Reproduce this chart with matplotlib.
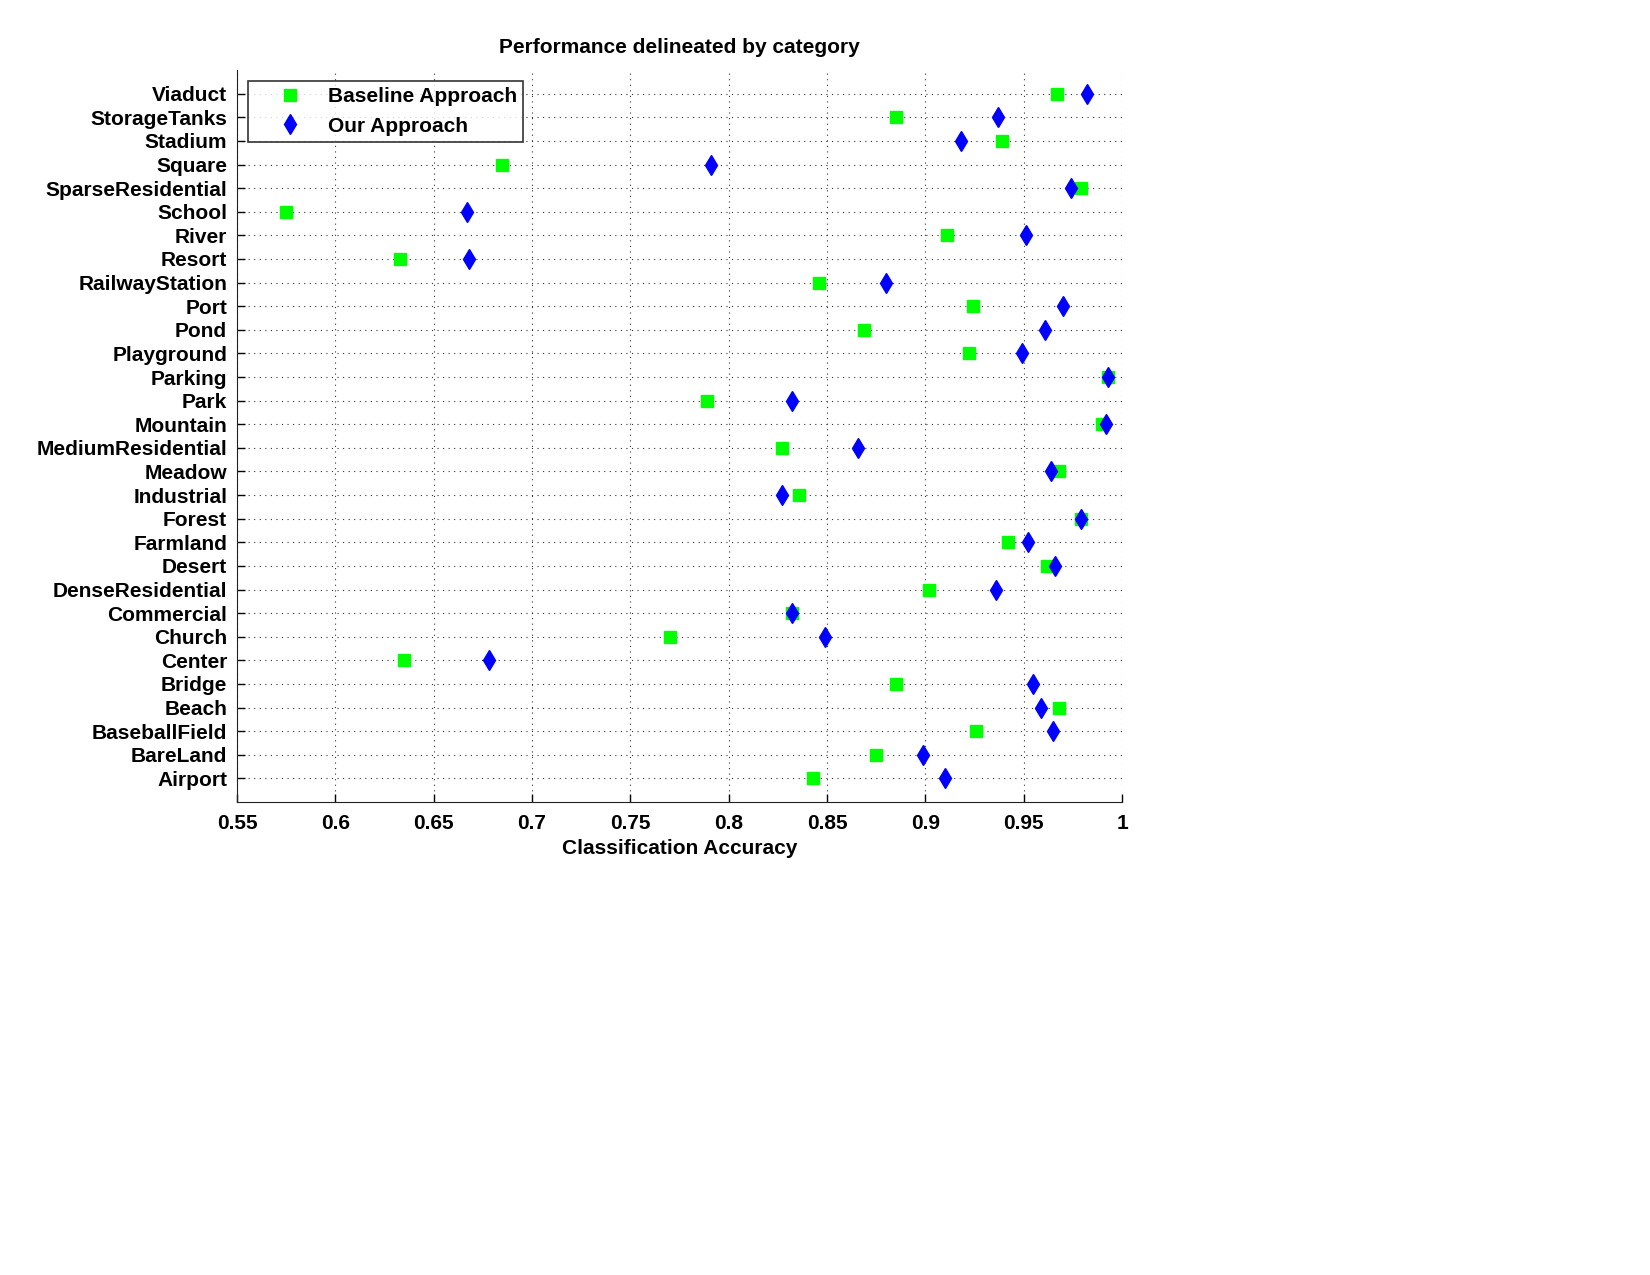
import matplotlib.pyplot as plt

plt.rcParams['font.family'] = ['Liberation Sans', 'DejaVu Sans']
plt.rcParams['font.weight'] = 'bold'

categories = ['Airport', 'BareLand', 'BaseballField', 'Beach', 'Bridge', 'Center',
              'Church', 'Commercial', 'DenseResidential', 'Desert', 'Farmland',
              'Forest', 'Industrial', 'Meadow', 'MediumResidential', 'Mountain',
              'Park', 'Parking', 'Playground', 'Pond', 'Port', 'RailwayStation',
              'Resort', 'River', 'School', 'SparseResidential', 'Square',
              'Stadium', 'StorageTanks', 'Viaduct']

baseline = [0.843, 0.875, 0.926, 0.968, 0.885, 0.635,
            0.770, 0.832, 0.902, 0.962, 0.942,
            0.979, 0.836, 0.968, 0.827, 0.990,
            0.789, 0.993, 0.922, 0.869, 0.924, 0.846,
            0.633, 0.911, 0.575, 0.979, 0.685,
            0.939, 0.885, 0.967]

ours = [0.910, 0.899, 0.965, 0.959, 0.955, 0.678,
        0.849, 0.832, 0.936, 0.966, 0.952,
        0.979, 0.827, 0.964, 0.866, 0.992,
        0.832, 0.993, 0.949, 0.961, 0.970, 0.880,
        0.668, 0.951, 0.667, 0.974, 0.791,
        0.918, 0.937, 0.982]

xticks = [0.55, 0.6, 0.65, 0.7, 0.75, 0.8, 0.85, 0.9, 0.95, 1]
xtick_labels = ['0.55', '0.6', '0.65', '0.7', '0.75', '0.8', '0.85', '0.9', '0.95', '1']

fig = plt.figure(figsize=(16.5, 12.75), dpi=100)
ax = fig.add_axes([0.1436, 0.371, 0.5364, 0.574])

ypos = list(range(1, len(categories) + 1))
ax.plot(baseline, ypos, 's', color='#00ff00', markersize=8, linestyle='none',
        label='Baseline Approach')
ax.plot(ours, ypos, 'd', color='#0000ff', markersize=10.5, linestyle='none',
        label='Our Approach')

ax.set_xlim(0.55, 1)
ax.set_ylim(0, 31)
ax.set_xticks(xticks)
ax.set_xticklabels(xtick_labels)
ax.set_yticks(ypos)
ax.set_yticklabels(categories)
ax.tick_params(direction='in', labelsize=15, length=6, width=1)
ax.tick_params(axis='x', pad=9)
ax.tick_params(axis='y', pad=7)
ax.grid(True, linestyle=(0, (1, 4)), color='#333333', linewidth=0.8)
ax.set_axisbelow(True)
for s in ['top', 'right']:
    ax.spines[s].set_visible(False)
for s in ['left', 'bottom']:
    ax.spines[s].set_color('#222222')

ax.set_title('Performance delineated by category', fontsize=15, fontweight='bold', pad=12)
ax.set_xlabel('Classification Accuracy', fontsize=15, fontweight='bold', labelpad=4)

leg = ax.legend(loc='upper left', fontsize=15, frameon=True, fancybox=False,
                edgecolor='black', borderpad=0.3, handletextpad=0.05,
                handlelength=3.5, bbox_to_anchor=(0.012, 0.985), borderaxespad=0)
leg.get_frame().set_linewidth(1.2)

fig.savefig('out.png', dpi=100)
